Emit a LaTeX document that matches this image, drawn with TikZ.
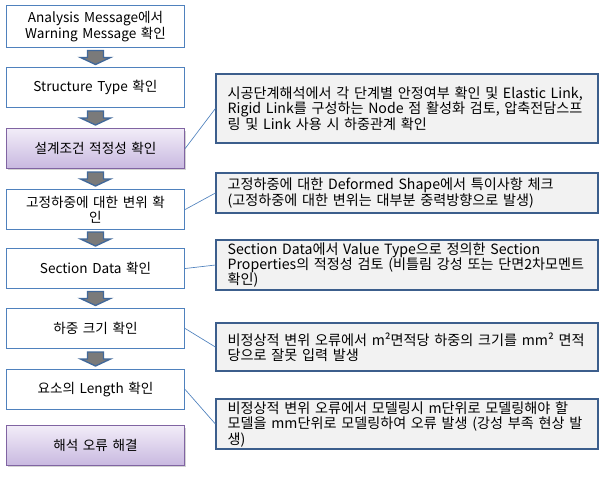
\documentclass[tikz,border=0pt]{standalone}
\usepackage{fontspec}
\setmainfont{Noto Sans CJK KR}
\usepackage{xcolor}
\usetikzlibrary{calc,shadows}

\definecolor{stageline}{HTML}{4F81BD}
\definecolor{keyline}{HTML}{8064A2}
\definecolor{keytop}{HTML}{F1ECF8}
\definecolor{keybot}{HTML}{C9B9E0}
\definecolor{noteline}{HTML}{3C5E8C}
\definecolor{notefill}{HTML}{F2F2F2}
\definecolor{arrowline}{HTML}{41689A}

\begin{document}
\begin{tikzpicture}[x=0.75pt,y=-0.75pt,font=\fontsize{10.2}{11.6}\selectfont]
      \tikzstyle{stage} = [rectangle, minimum width=131pt, minimum height=29.5pt, text width=127pt, align=center, draw=stageline, line width=0.8pt, fill=white]
      \tikzstyle{keystage} = [stage, draw=keyline, top color=keytop, bottom color=keybot, drop shadow={opacity=0.35, shadow xshift=1.2pt, shadow yshift=-1.5pt}]
      \tikzstyle{note} = [rectangle, minimum width=286.5pt, text width=269pt, align=left, draw=noteline, line width=0.9pt, fill=notefill, inner sep=0pt, font=\fontsize{10.6}{11.6}\selectfont]
      \tikzstyle{link} = [stageline, line width=0.5pt]
      \tikzstyle{blockarrow} = [fill=black!52, draw=arrowline, line width=1pt, line join=miter]

      \useasboundingbox (0,0) rectangle (609,476);

      % flow on the left
      \node (msg) [stage, minimum height=31pt] at (95.5,26.5) {Analysis Message에서\\Warning Message 확인};
      \node (stype) [stage] at (95.5,87.5) {Structure Type 확인};
      \node (cond) [keystage] at (95.5,148.5) {설계조건 적정성 확인};
      \node (dead) [stage] at (95.5,209.5) {고정하중에 대한 변위 확\\인};
      \node (sect) [stage] at (95.5,268.5) {Section Data 확인};
      \node (load) [stage] at (95.5,328.5) {하중 크기 확인};
      \node (len) [stage] at (95.5,389.5) {요소의 Length 확인};
      \node (fix) [keystage] at (95.5,445.5) {해석 오류 해결};

      % notes on the right
      \node (ncond) [note, minimum height=51.75pt] at (407,108.5) {시공단계해석에서 각 단계별 안정여부 확인 및 Elastic Link,\\Rigid Link를 구성하는 Node 점 활성화 검토, 압축전담스프\\링 및 Link 사용 시 하중관계 확인};
      \node (ndead) [note, minimum height=30pt] at (407,193) {고정하중에 대한 Deformed Shape에서 특이사항 체크\\(고정하중에 대한 변위는 대부분 중력방향으로 발생)};
      \node (nsect) [note, minimum height=37.5pt] at (407,265) {Section Data에서 Value Type으로 정의한 Section\\Properties의 적정성 검토 (비틀림 강성 또는 단면2차모멘트\\확인)};
      \node (nload) [note, minimum height=36pt] at (407,347) {비정상적 변위 오류에서 m²면적당 하중의 크기를 mm² 면적\\당으로 잘못 입력 발생};
      \node (nlen) [note, minimum height=37.5pt] at (407,424) {비정상적 변위 오류에서 모델링시 m단위로 모델링해야 할\\모델을 mm단위로 모델링하여 오류 발생 (강성 부족 현상 발\\생)};

      \foreach \a/\b in {msg/stype, stype/cond, cond/dead, dead/sect, sect/load, load/len}
        \draw [blockarrow] ($(\a.south)!0.5!(\b.north)$) ++(-8,-7) -- ++(16,0) -- ++(0,7) -- ++(7,0) -- ++(-15,7) -- ++(-15,-7) -- ++(7,0) -- cycle;

      \foreach \a/\b in {cond/ncond, dead/ndead, sect/nsect, load/nload, len/nlen}
        \draw [link] (\a.east) -- (\b.west);
    \end{tikzpicture}
\end{document}
